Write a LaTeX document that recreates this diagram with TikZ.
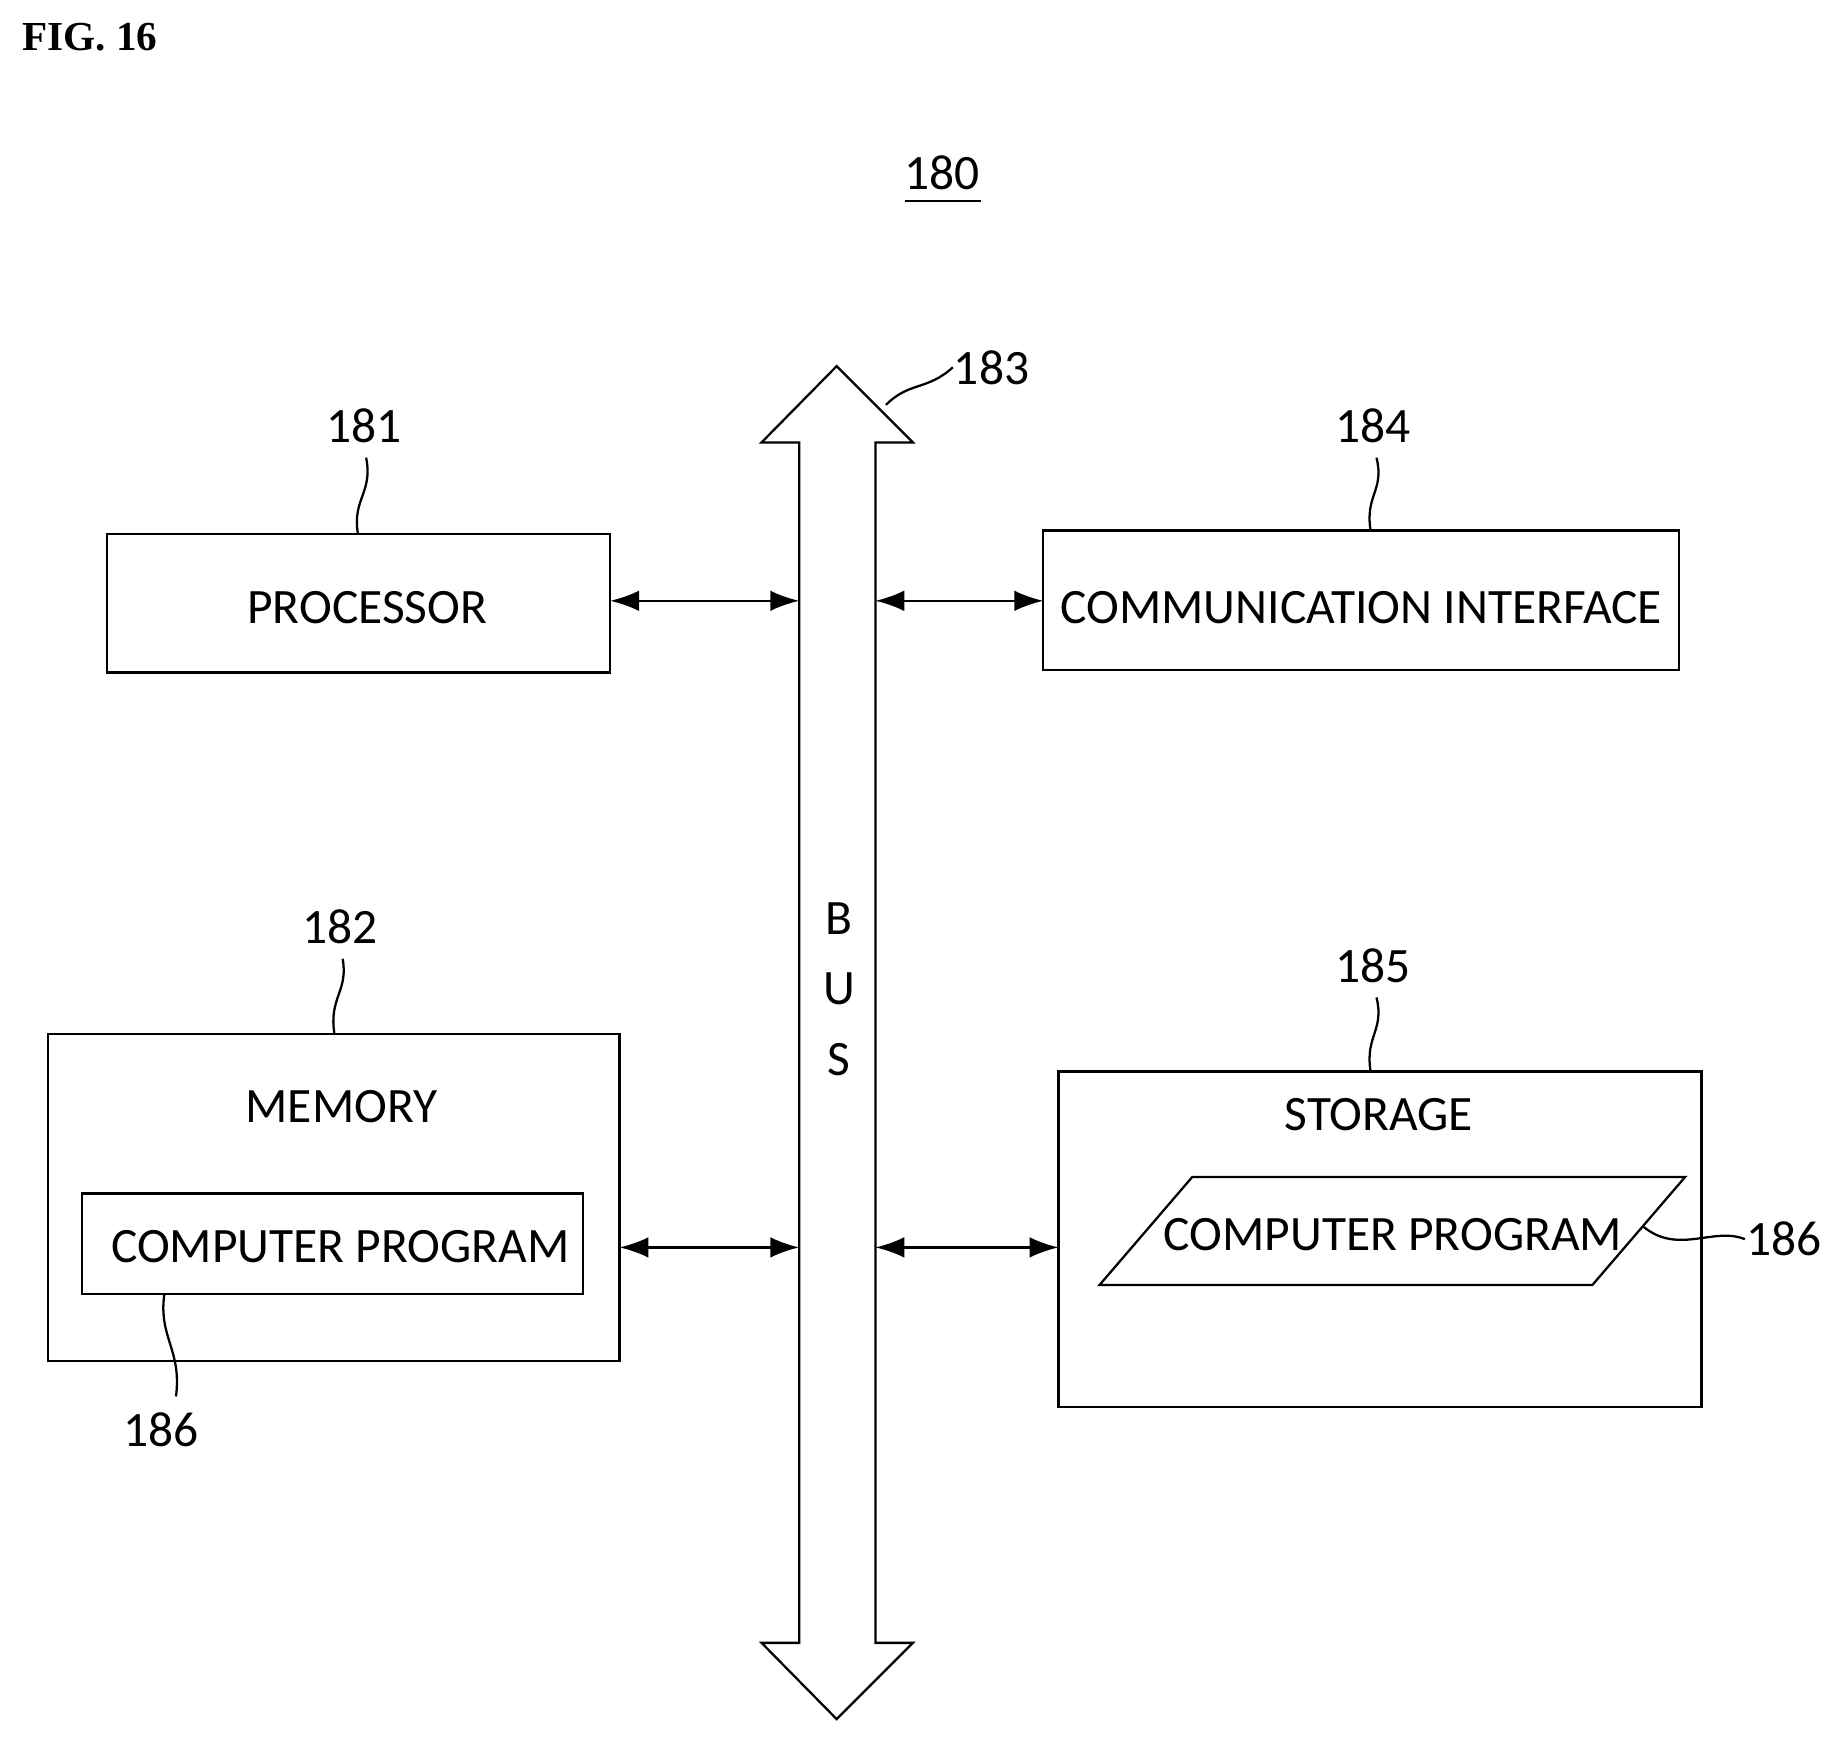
\documentclass[tikz,border=0pt]{standalone}
\usepackage{fontspec}
\setmainfont{Carlito}
\usetikzlibrary{arrows.meta}
\begin{document}
\begin{tikzpicture}[x=0.02cm,y=-0.02cm,line width=1.1pt,
  lbl/.style={font=\fontsize{24}{28}\selectfont,inner sep=0},
  box/.style={draw,line width=1.1pt},
  arr/.style={{Latex[length=14pt,width=10pt]}-{Latex[length=14pt,width=10pt]},line width=1.1pt},
  lead/.style={line width=1.1pt}]
\useasboundingbox (0,0) rectangle (1568,1483);
\node[font=\bfseries\fontsize{20}{24}\selectfont\rmfamily,anchor=west,inner sep=0] (fig) at (18,32) {\fontspec{Liberation Serif}FIG. 16};
\node[lbl] (n180) at (803,147) {180};
\draw[lead] (771,171) -- (836,171);
% bus
\draw[box] (681,377) -- (649,377) -- (713,312) -- (778,377) -- (746,377) -- (746,1400) -- (778,1400) -- (713,1465) -- (649,1400) -- (681,1400) -- cycle;
\coordinate (busL1) at (681,512); \coordinate (busR1) at (746,512);
\coordinate (busL2) at (681,1063); \coordinate (busR2) at (746,1063);
\node[lbl] (b) at (715,783) {B};
\node[lbl] (u) at (715,843) {U};
\node[lbl] (s) at (715,903) {S};
\node[lbl] (n183) at (845,313) {183};
\coordinate (l183) at (755,345);
\draw[lead] (l183) .. controls (775,325) and (790,333) .. (n183.west);
% processor
\draw[box] (91,455) rectangle (520,573);
\node[lbl] (proc) at (313,518) {PROCESSOR};
\coordinate (procE) at (520,512);
\node[lbl] (n181) at (310,363) {181};
\draw[lead] (305,455) .. controls (300,425) and (318,420) .. (312,390);
% comm
\draw[box] (889,452) rectangle (1431,571);
\node[lbl] (comm) at (1160,518) {COMMUNICATION INTERFACE};
\coordinate (commW) at (889,512);
\node[lbl] (n184) at (1170,363) {184};
\draw[lead] (1168,452) .. controls (1163,422) and (1180,418) .. (1173,390);
\draw[arr] (procE) -- (busL1);
\draw[arr] (busR1) -- (commW);
% memory
\draw[box] (41,881) rectangle (528,1160);
\node[lbl] (mem) at (291,943) {MEMORY};
\draw[box] (70,1017) rectangle (497,1103);
\node[lbl] (cp1) at (290,1062) {COMPUTER PROGRAM};
\coordinate (memE) at (528,1063);
\node[lbl] (n182) at (290,790) {182};
\draw[lead] (285,881) .. controls (280,850) and (297,845) .. (292,817);
\node[lbl] (n186a) at (137,1218) {186};
\draw[lead] (140,1103) .. controls (135,1140) and (155,1150) .. (150,1190);
% storage
\draw[box] (902,913) rectangle (1450,1199);
\node[lbl] (stor) at (1175,950) {STORAGE};
\draw[box] (1016,1003) -- (1436,1003) -- (1357,1095) -- (937,1095) -- cycle;
\node[lbl] (cp2) at (1187,1052) {COMPUTER PROGRAM};
\node[lbl] (n186b) at (1520,1056) {186};
\draw[lead] (1400,1045) .. controls (1430,1070) and (1460,1045) .. (n186b.west);
\coordinate (storW) at (902,1063);
\node[lbl] (n185) at (1170,823) {185};
\draw[lead] (1168,913) .. controls (1163,883) and (1180,878) .. (1173,850);
\draw[arr] (memE) -- (busL2);
\draw[arr] (busR2) -- (storW);
\end{tikzpicture}
\end{document}
